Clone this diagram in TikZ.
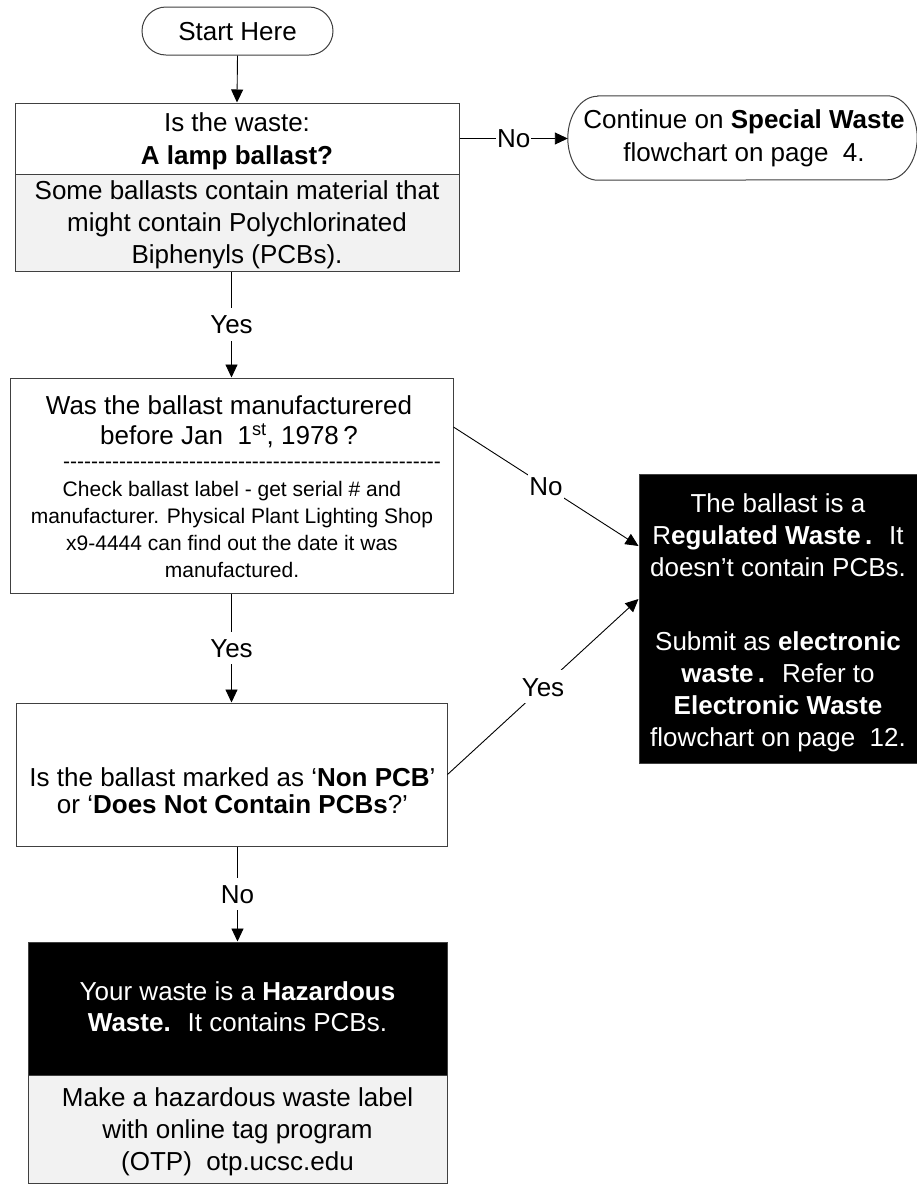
\documentclass[tikz,border=0pt]{standalone}
\usepackage{fontspec}
\setmainfont{Liberation Sans}
\usetikzlibrary{arrows.meta,calc}
\ExplSyntaxOn
\NewDocumentCommand\dashrow{m}{\prg_replicate:nn{#1}{\mbox{-}}}
\ExplSyntaxOff
\newdimen\bsk \newdimen\fsz
\newcommand\st{\rule[\dimexpr 0.36\fsz-0.5\bsk\relax]{0pt}{\bsk}}
\begin{document}
\begin{tikzpicture}[x=1pt,y=1pt,
  box/.style={draw=black!75, line width=1pt, inner sep=0pt, rectangle},
  txt/.style 2 args={inner sep=0pt, align=center, font={\fsz=#1pt\bsk=#2pt\fontsize{#1}{#2}\selectfont}},
  lab/.style={fill=white, inner xsep=1pt, inner ysep=7pt, text height=18.6pt, text depth=0pt, font=\fontsize{26}{32}\selectfont},
  arr/.style={draw=black, line width=0.9pt, -{Triangle[length=13pt,width=12pt]}},
]
\fill[white] (0,0) rectangle (917,-1184);
\useasboundingbox (0,0) rectangle (917,-1184);

% start
\node[box, rounded corners=24pt, minimum width=191, minimum height=48, txt={26}{32}] (start) at (237.5,-31) {\st Start Here};

% box 1
\node[box, minimum width=444, minimum height=71, txt={26}{33}] (b1) at (237,-138.5) {\st Is the waste:\\\st\textbf{A lamp ballast?}};
\node[box, fill=black!5, minimum width=444, minimum height=97, txt={26}{32}] (b1g) at (237,-222.5) {\st Some ballasts contain material that\\\st might contain Polychlorinated\\\st Biphenyls (PCBs).};

% continue terminal
\node[minimum width=349, minimum height=84, inner sep=0pt] (cont) at (742.5,-138) {};
\draw[black!75, line width=1pt] ($(cont.north west)+(30,0)$) -- ($(cont.north east)+(-30,0)$)
  arc[start angle=90, end angle=-90, x radius=30, y radius=42]
  -- ($(cont.south west)+(30,0)$)
  arc[start angle=270, end angle=90, x radius=30, y radius=42] -- cycle;
\node[txt={26}{33}] (contT) at (744,-136) {\st Continue on \textbf{Special Waste}\\\st flowchart on page~ 4.};

% box 2
\node[box, minimum width=443, minimum height=215] (b2) at (231.5,-485.5) {};
\node[txt={26}{30}] (b2q) at (229,-420) {\st Was the ballast manufacturered\\\st before Jan~ 1\textsuperscript{st}, 1978\,?};
\node[txt={21}{26}] (b2d) at (252,-465) {\dashrow{54}};
\node[txt={21}{27}] (b2s) at (232,-529.5) {\st Check ballast label - get serial \# and\\\st manufacturer. Physical Plant Lighting Shop\\\st x9-4444 can find out the date it was\\\st manufactured.};

% box 3
\node[box, minimum width=431, minimum height=143] (b3) at (231.5,-774.5) {};
\node[txt={26}{27}] (b3t) at (232.5,-790.5) {\st Is the ballast marked as ‘\textbf{Non PCB}’\\\st or ‘\textbf{Does Not Contain PCBs}?’};

% box 4
\node[box, fill=black, minimum width=419, minimum height=133] (b4) at (237.5,-1008.5) {};
\node[txt={26}{31}, text=white] (b4t) at (237.5,-1007) {\st Your waste is a \textbf{Hazardous}\\\st\textbf{Waste.}~ It contains PCBs.};
\node[box, fill=black!5, minimum width=419, minimum height=108.5] (b4g) at (237.5,-1129.25) {};
\node[txt={26}{32}] (b4gt) at (237.5,-1129.5) {\st Make a hazardous waste label\\\st with online tag program\\\st (OTP)~ otp.ucsc.edu};

% right box
\node[box, fill=black, minimum width=278, minimum height=289] (rb) at (778,-618.5) {};
\node[txt={26}{32}, text=white] (rbA) at (778,-535) {\st The ballast is a\\\st R\textbf{egulated Waste\,.}~ It\\\st doesn’t contain PCBs.};
\node[txt={26}{32}, text=white] (rbB) at (778,-689.5) {\st Submit as \textbf{electronic}\\\st\textbf{waste\,.}~ Refer to\\\st\textbf{Electronic Waste}\\\st flowchart on page~ 12.};

% connectors
\draw[arr] (start.south) -- (b1.north);
\draw[arr] (b1.east) -- node[lab] (l1) {No} (b1.east -| cont.west);
\draw[arr] (b2.north |- b1g.south) -- node[lab] (l2) {Yes} (b2.north);
\draw[arr] (b2.south) -- node[lab] (l3) {Yes} (b3.north);
\draw[arr] (b4.north |- b3.south) -- node[lab] (l4) {No} (b4.north);
\draw[arr] ($(b2.east)+(0,58.5)$) -- node[lab] (l5) {No} ($(rb.west)+(0,72.5)$);
\draw[arr] (b3.east) -- node[lab] (l6) {Yes} ($(rb.west)+(0,19.5)$);
\end{tikzpicture}
\end{document}
